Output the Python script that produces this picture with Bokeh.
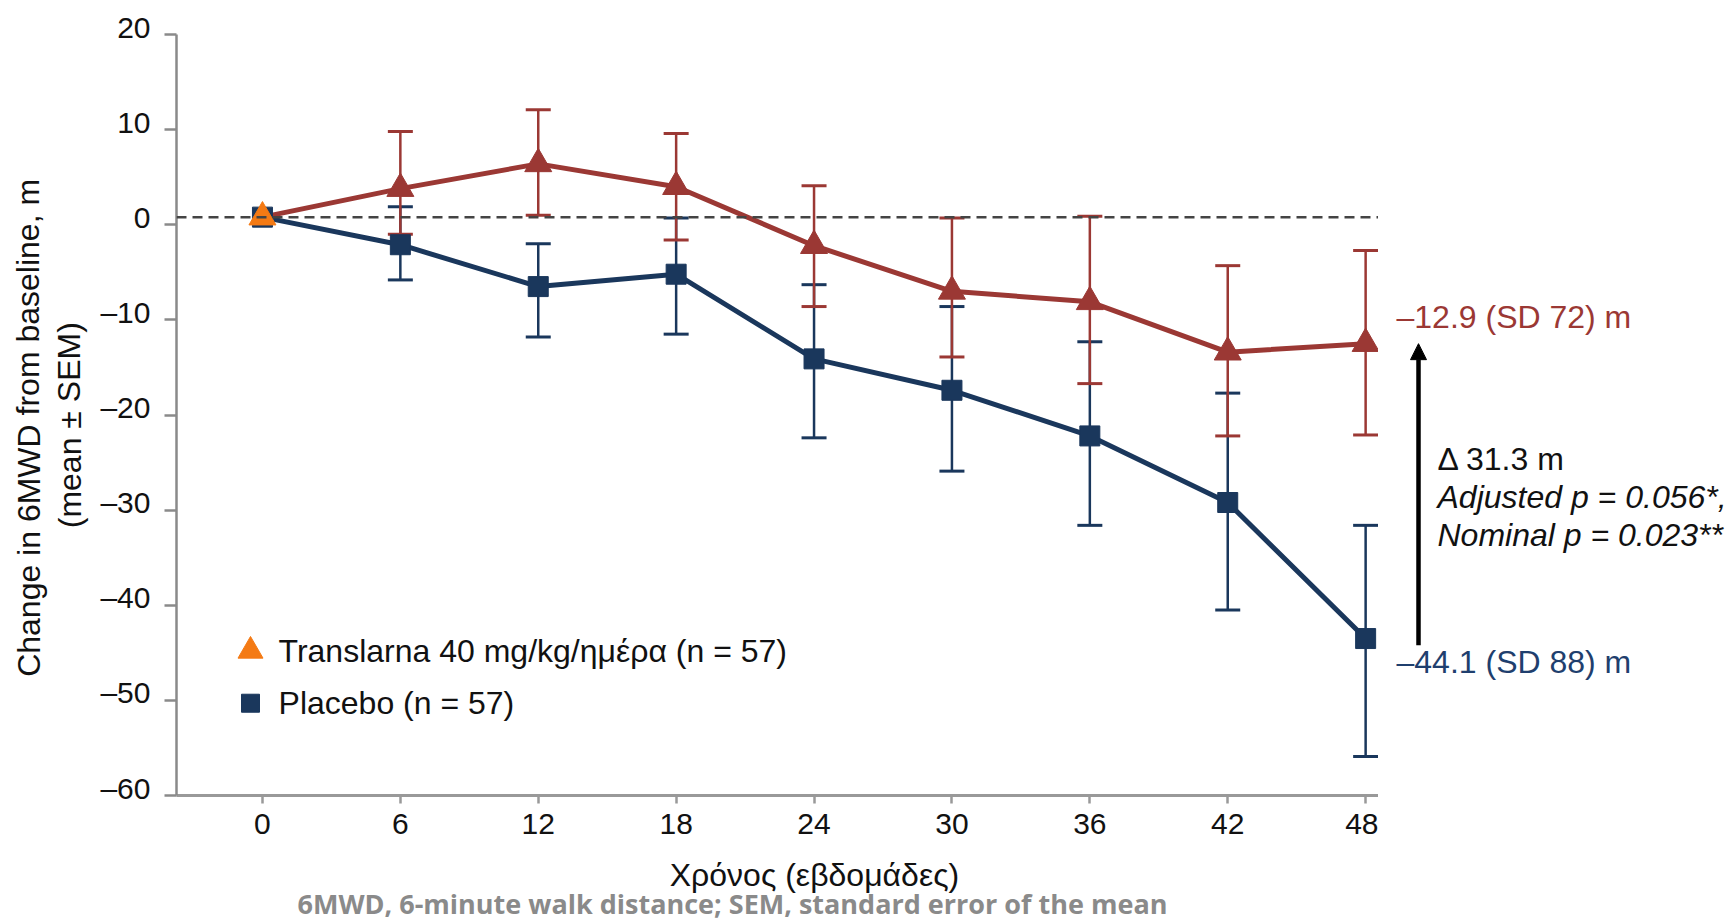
from bokeh.plotting import figure
from bokeh.layouts import row, column
from bokeh.models import Range1d, FixedTicker, Span, Label, Arrow, NormalHead
from bokeh.embed import file_html
from bokeh.resources import INLINE

weeks = [0, 6, 12, 18, 24, 30, 36, 42, 48]
transl_mean = [0.8, 3.8, 6.4, 4.0, -2.2, -7.0, -8.1, -13.4, -12.5]
transl_upper = [None, 9.8, 12.1, 9.6, 4.1, 0.7, 0.9, -4.3, -2.7]
transl_lower = [None, -1.0, 1.0, -1.6, -8.6, -13.9, -16.7, -22.2, -22.1]
placebo_mean = [0.8, -2.1, -6.5, -5.2, -14.1, -17.4, -22.2, -29.2, -43.5]
placebo_upper = [None, 1.9, -2.0, 0.7, -6.3, -8.6, -12.3, -17.7, -31.6]
placebo_lower = [None, -5.8, -11.8, -11.5, -22.4, -25.9, -31.6, -40.5, -55.9]
y_ticks = [20, 10, 0, -10, -20, -30, -40, -50, -60]
x_ticks = [0, 6, 12, 18, 24, 30, 36, 42, 48]
baseline_ref = 0.8
transl_final = "\u201312.9 (SD 72) m"
placebo_final = "\u201344.1 (SD 88) m"
delta_text = ["\u0394 31.3 m", "Adjusted p = 0.056*,", "Nominal p = 0.023**"]

RED = "#9B3834"
BLUE = "#1A375C"
BLUE_TXT = "#1F3F6E"
ORANGE = "#F47A14"
FONT = "Liberation Sans"
FS = "32px"

TOP_H = 857
W_LEFT = 90
W_MAIN = 1288
W_RIGHT = 1729 - W_LEFT - W_MAIN
BOT_H = 921 - TOP_H


def blank(width, height, x_range, y_range, **kw):
    f = figure(width=width, height=height, x_range=x_range, y_range=y_range,
               output_backend="svg", toolbar_location=None,
               x_axis_location=None, y_axis_location=None, **kw)
    f.outline_line_color = None
    f.xgrid.visible = False
    f.ygrid.visible = False
    return f


# ---------------- main plot ----------------
p = figure(width=W_MAIN, height=TOP_H, x_range=Range1d(-3.74, 48.56), y_range=Range1d(-60, 20),
           output_backend="svg", toolbar_location=None,
           min_border_left=86, min_border_right=0, min_border_top=34, min_border_bottom=62)
p.outline_line_color = None
p.xgrid.visible = False
p.ygrid.visible = False

p.yaxis.ticker = FixedTicker(ticks=y_ticks)
# labels sit slightly above their tick marks in the reference: an empty second line lifts them
p.yaxis.major_label_overrides = {t: (str(t).replace("-", "\u2013") + "\n\u00a0") for t in y_ticks}
p.yaxis.major_label_text_line_height = 0.45
p.yaxis.axis_line_color = "#8a8a8a"
p.yaxis.axis_line_width = 2.5
p.yaxis.major_tick_line_color = "#8a8a8a"
p.yaxis.major_tick_line_width = 2.5
p.yaxis.major_tick_out = 12
p.yaxis.major_tick_in = 0
p.yaxis.minor_tick_line_color = None
p.yaxis.major_label_text_font = FONT
p.yaxis.major_label_text_font_size = "30px"
p.yaxis.major_label_text_color = "#111111"
p.yaxis.major_label_standoff = 14

p.xaxis.ticker = FixedTicker(ticks=x_ticks)
p.xaxis.axis_line_color = "#999999"
p.xaxis.axis_line_width = 3
p.xaxis.major_tick_line_color = "#999999"
p.xaxis.major_tick_line_width = 2.5
p.xaxis.major_tick_out = 8
p.xaxis.major_tick_in = 0
p.xaxis.minor_tick_line_color = None
p.xaxis.major_label_text_font = FONT
p.xaxis.major_label_text_font_size = "30px"
p.xaxis.major_label_text_color = "#111111"
p.xaxis.major_label_standoff = 10

p.add_layout(Span(location=baseline_ref, dimension="width", line_color="#444444",
                  line_width=2.5, line_dash="10 6"))

ew = [w for w, u in zip(weeks, placebo_upper) if u is not None]
pu = [u for u in placebo_upper if u is not None]
pl_ = [l for l in placebo_lower if l is not None]
tu = [u for u in transl_upper if u is not None]
tl = [l for l in transl_lower if l is not None]

p.segment(ew, pu, ew, pl_, line_color=BLUE, line_width=2.5)
p.scatter(ew + ew, pu + pl_, marker="dash", size=25, line_color=BLUE, line_width=3)
p.segment(ew, tu, ew, tl, line_color=RED, line_width=2.5)
p.scatter(ew + ew, tu + tl, marker="dash", size=25, line_color=RED, line_width=3)

p.line(weeks, placebo_mean, line_color=BLUE, line_width=5)
p.line(weeks, transl_mean, line_color=RED, line_width=5)
p.scatter(weeks, placebo_mean, marker="square", size=20, fill_color=BLUE, line_color=BLUE)
p.scatter(weeks[1:], transl_mean[1:], marker="triangle", size=27, fill_color=RED, line_color=RED)
p.scatter(weeks[:1], transl_mean[:1], marker="triangle", size=27, fill_color=ORANGE, line_color=ORANGE)

# legend
p.scatter([-0.52], [-44.8], marker="triangle", size=25, fill_color=ORANGE, line_color=ORANGE)
p.scatter([-0.52], [-50.3], marker="square", size=18, fill_color=BLUE, line_color=BLUE)
p.add_layout(Label(x=0.7, y=-44.8, text="Translarna 40 mg/kg/ημέρα (n = 57)", text_font=FONT,
                   text_font_size=FS, text_baseline="middle", text_color="#111111"))
p.add_layout(Label(x=0.7, y=-50.3, text="Placebo (n = 57)", text_font=FONT,
                   text_font_size=FS, text_baseline="middle", text_color="#111111"))

# ---------------- left panel: y title ----------------
pleft = blank(W_LEFT, TOP_H, Range1d(0, W_LEFT), Range1d(0, TOP_H), min_border=0)
pleft.add_layout(Label(x=28, y=TOP_H - 443, text="Change in 6MWD from baseline, m", text_font=FONT,
                       text_font_size="32px", text_align="center", text_baseline="middle",
                       angle=1.5708, text_color="#111111"))
pleft.add_layout(Label(x=69, y=TOP_H - 440, text="(mean ± SEM)", text_font=FONT,
                       text_font_size="32px", text_align="center", text_baseline="middle",
                       angle=1.5708, text_color="#111111"))

# ---------------- right panel: end values and difference ----------------
x0 = W_LEFT + W_MAIN
pright = blank(W_RIGHT, TOP_H, Range1d(x0, 1729), p.y_range,
               min_border_left=0, min_border_right=0, min_border_top=34, min_border_bottom=62)
pright.add_layout(Label(x=1396, y=-9.7, text=transl_final, text_font=FONT,
                        text_font_size=FS, text_baseline="middle", text_color=RED))
pright.add_layout(Label(x=1396, y=-46.0, text=placebo_final, text_font=FONT,
                        text_font_size=FS, text_baseline="middle", text_color=BLUE_TXT))
pright.add_layout(Arrow(end=NormalHead(size=16, fill_color="black", line_color="black", line_width=1),
                        x_start=1418, y_start=-44.2, x_end=1418, y_end=-12.5,
                        line_width=4.5, line_color="black"))
pright.add_layout(Label(x=1437, y=-24.6, text=delta_text[0],
                        text_font=FONT, text_font_size=FS, text_baseline="middle", text_color="#111111"))
pright.add_layout(Label(x=1437, y=-28.6, text=delta_text[1], text_font=FONT,
                        text_font_style="italic", text_font_size=FS, text_baseline="middle",
                        text_color="#111111"))
pright.add_layout(Label(x=1437, y=-32.6, text=delta_text[2], text_font=FONT,
                        text_font_style="italic", text_font_size=FS, text_baseline="middle",
                        text_color="#111111"))

# ---------------- bottom panel: x title and footnote ----------------
pbot = blank(1729, BOT_H, Range1d(0, 1729), Range1d(0, BOT_H), min_border=0)
pbot.add_layout(Label(x=814, y=921 - 874, text="Χρόνος (εβδομάδες)", text_font=FONT,
                      text_font_size=FS, text_align="center", text_baseline="middle",
                      text_color="#111111"))
pbot.add_layout(Label(x=732, y=921 - 903,
                      text="6MWD, 6-minute walk distance; SEM, standard error of the mean",
                      text_font="Open Sans", text_font_style="bold", text_font_size="27px",
                      text_align="center", text_baseline="middle", text_color="#8A8A8A"))

layout = column(row(pleft, p, pright), pbot)
open("out.html", "w").write(file_html(layout, INLINE))
